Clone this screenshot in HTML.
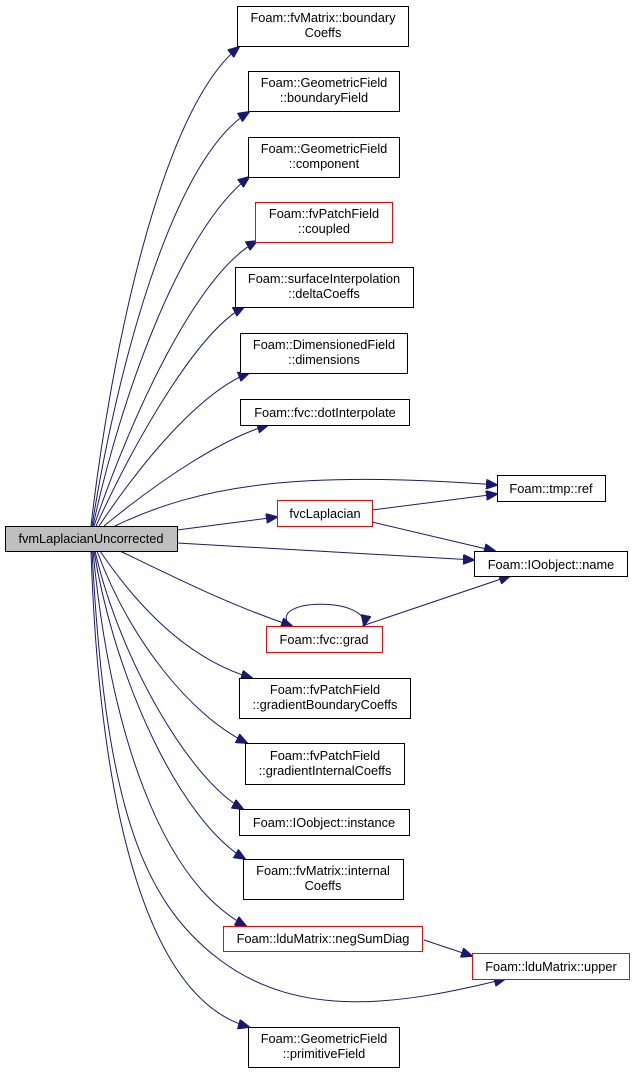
<!DOCTYPE html>
<html><head><meta charset="utf-8"><style>
html,body{margin:0;padding:0;background:#fff;}
svg{display:block;}
text{font-family:"Liberation Sans",Arial,sans-serif;font-size:12.8px;fill:#000;}
</style></head><body>
<svg width="632" height="1073" viewBox="0 0 632 1073" xmlns="http://www.w3.org/2000/svg">
<defs><marker id="a" markerWidth="12" markerHeight="10" refX="11" refY="5" orient="auto" markerUnits="userSpaceOnUse"><path d="M0,0 L12,5 L0,10 Z" fill="#191970" stroke="#191970"/></marker></defs>
<g fill="none" stroke="#191970" stroke-width="1" marker-end="url(#a)">
<path d="M91,526 C110,360 160,110 239,47"/>
<path d="M92,526 C115,380 170,160 249,112"/>
<path d="M93,526 C120,400 180,230 249,177"/>
<path d="M94,526 C130,420 195,275 257,241"/>
<path d="M96,526 C140,430 200,330 244,307"/>
<path d="M99,526 C150,450 205,390 249,373"/>
<path d="M104,526 C160,480 220,440 268,425"/>
<path d="M115,526 C200,485 300,470 497,485"/>
<path d="M177,530 L277,517"/>
<path d="M177,543 L474,560"/>
<path d="M120,551 C180,580 230,605 292,626"/>
<path d="M100,551 C140,610 190,660 252,678"/>
<path d="M97,551 C130,640 190,715 247,743"/>
<path d="M95,551 C120,660 190,780 243,809"/>
<path d="M94,551 C115,680 180,820 245,859"/>
<path d="M93,551 C110,730 160,880 246,926"/>
<path d="M92,551 C105,800 140,900 220,960 C300,1020 400,1005 505,979"/>
<path d="M91,551 C100,820 150,1000 249,1027"/>
<path d="M372,510 L497,494"/>
<path d="M372,522 L495,551"/>
<path d="M362,626 L510,576"/>
<path d="M290,626 C265,598 370,596 364,626"/>
<path d="M424,940 L472,956"/>
</g>
<g stroke-width="1">
<rect x="237.5" y="6.5" width="171" height="40" fill="#fff" stroke="#000"/>
<rect x="248.5" y="71.5" width="151" height="40" fill="#fff" stroke="#000"/>
<rect x="248.5" y="137.5" width="151" height="40" fill="#fff" stroke="#000"/>
<rect x="255.5" y="202.5" width="137" height="40" fill="#fff" stroke="#f00"/>
<rect x="235.5" y="267.5" width="178" height="40" fill="#fff" stroke="#000"/>
<rect x="240.5" y="333.5" width="167" height="40" fill="#fff" stroke="#000"/>
<rect x="240.5" y="399.5" width="169" height="26" fill="#fff" stroke="#000"/>
<rect x="497.5" y="475.5" width="108" height="26" fill="#fff" stroke="#000"/>
<rect x="277.5" y="500.5" width="95" height="26" fill="#fff" stroke="#f00"/>
<rect x="5.5" y="526.5" width="172" height="25" fill="#bfbfbf" stroke="#000"/>
<rect x="474.5" y="551.5" width="153" height="25" fill="#fff" stroke="#000"/>
<rect x="266.5" y="626.5" width="116" height="26" fill="#fff" stroke="#f00"/>
<rect x="239.5" y="678.5" width="171" height="40" fill="#fff" stroke="#000"/>
<rect x="245.5" y="743.5" width="159" height="41" fill="#fff" stroke="#000"/>
<rect x="239.5" y="809.5" width="170" height="26" fill="#fff" stroke="#000"/>
<rect x="243.5" y="859.5" width="160" height="40" fill="#fff" stroke="#000"/>
<rect x="223.5" y="926.5" width="199" height="25" fill="#fff" stroke="#f00"/>
<rect x="472.5" y="953.5" width="157" height="26" fill="#fff" stroke="#f00"/>
<rect x="248.5" y="1027.5" width="151" height="40" fill="#fff" stroke="#000"/>
</g>
<g text-anchor="middle">
<text x="323" y="22">Foam::fvMatrix::boundary</text><text x="323" y="37">Coeffs</text>
<text x="324" y="87">Foam::GeometricField</text><text x="324" y="102">::boundaryField</text>
<text x="324" y="153">Foam::GeometricField</text><text x="324" y="168">::component</text>
<text x="324" y="218">Foam::fvPatchField</text><text x="324" y="233">::coupled</text>
<text x="324" y="283">Foam::surfaceInterpolation</text><text x="324" y="298">::deltaCoeffs</text>
<text x="324" y="349">Foam::DimensionedField</text><text x="324" y="364">::dimensions</text>
<text x="325" y="417">Foam::fvc::dotInterpolate</text>
<text x="551" y="493">Foam::tmp::ref</text>
<text x="325" y="518">fvcLaplacian</text>
<text x="91" y="543">fvmLaplacianUncorrected</text>
<text x="551" y="569">Foam::IOobject::name</text>
<text x="324" y="644">Foam::fvc::grad</text>
<text x="325" y="694">Foam::fvPatchField</text><text x="325" y="709">::gradientBoundaryCoeffs</text>
<text x="325" y="760">Foam::fvPatchField</text><text x="325" y="775">::gradientInternalCoeffs</text>
<text x="324" y="827">Foam::IOobject::instance</text>
<text x="323" y="875">Foam::fvMatrix::internal</text><text x="323" y="890">Coeffs</text>
<text x="323" y="943">Foam::lduMatrix::negSumDiag</text>
<text x="551" y="971">Foam::lduMatrix::upper</text>
<text x="324" y="1043">Foam::GeometricField</text><text x="324" y="1058">::primitiveField</text>
</g>
</svg>
</body></html>
